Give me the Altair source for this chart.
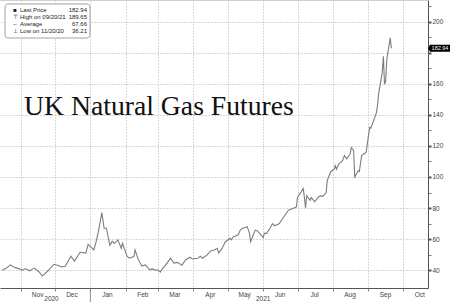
import altair as alt
import pandas as pd

# ---- data ----
dates = [
    "2020-10-16", "2020-10-20", "2020-10-23", "2020-10-26", "2020-10-29",
    "2020-11-03", "2020-11-05", "2020-11-09", "2020-11-11", "2020-11-13", "2020-11-17", "2020-11-20", "2020-11-25", "2020-11-30",
    "2020-12-04", "2020-12-07", "2020-12-10", "2020-12-15", "2020-12-18", "2020-12-23", "2020-12-28", "2020-12-30", "2020-12-31",
    "2021-01-04", "2021-01-06", "2021-01-08", "2021-01-11", "2021-01-13", "2021-01-15", "2021-01-18", "2021-01-20", "2021-01-22", "2021-01-25", "2021-01-28", "2021-01-29",
    "2021-02-02", "2021-02-04", "2021-02-08", "2021-02-09", "2021-02-12", "2021-02-15", "2021-02-18", "2021-02-22", "2021-02-24", "2021-02-26",
    "2021-03-01", "2021-03-03", "2021-03-05", "2021-03-09", "2021-03-12", "2021-03-15", "2021-03-18", "2021-03-22", "2021-03-25", "2021-03-29", "2021-03-31",
    "2021-04-05", "2021-04-07", "2021-04-09", "2021-04-13", "2021-04-16", "2021-04-19", "2021-04-22", "2021-04-23", "2021-04-26", "2021-04-29",
    "2021-05-03", "2021-05-04", "2021-05-06", "2021-05-10", "2021-05-12", "2021-05-14", "2021-05-18", "2021-05-20", "2021-05-21", "2021-05-25", "2021-05-27",
    "2021-06-01", "2021-06-02", "2021-06-04", "2021-06-07", "2021-06-09", "2021-06-11", "2021-06-14", "2021-06-15", "2021-06-18", "2021-06-21", "2021-06-23", "2021-06-28", "2021-06-30",
    "2021-07-01", "2021-07-05", "2021-07-06", "2021-07-07", "2021-07-08", "2021-07-09", "2021-07-12", "2021-07-13", "2021-07-15", "2021-07-16", "2021-07-19", "2021-07-21", "2021-07-23", "2021-07-26", "2021-07-27", "2021-07-30",
    "2021-08-02", "2021-08-03", "2021-08-04", "2021-08-06", "2021-08-09", "2021-08-11", "2021-08-13", "2021-08-16", "2021-08-17", "2021-08-19", "2021-08-20", "2021-08-23", "2021-08-24", "2021-08-26", "2021-08-30", "2021-08-31",
    "2021-09-01", "2021-09-02", "2021-09-03", "2021-09-06", "2021-09-08", "2021-09-09", "2021-09-10", "2021-09-13", "2021-09-14", "2021-09-15", "2021-09-16", "2021-09-17", "2021-09-20", "2021-09-21",
]
prices = [
    40, 41.5, 43.4, 42, 41.3,
    40, 41, 39.6, 40.5, 41.3, 39, 36.21, 39.6, 43.8,
    43, 42, 42.5, 49, 45.8, 51.5, 51, 56.6, 56,
    53, 58.3, 65, 77, 67, 67, 56, 58.5, 57.3, 59.5, 54, 57.3,
    49, 47.7, 48.8, 53, 46.6, 42.6, 43.4, 40.2, 40.8, 40.2,
    40, 38.7, 41, 44.5, 47.7, 44.5, 45, 43.2, 46.6, 48.3, 47.2,
    47.7, 49, 47.7, 49.8, 52.4, 53, 54, 51, 54, 58.3,
    60.5, 59.5, 61.6, 62.6, 65.8, 67, 68, 63.7, 58.3, 65.8, 65.3,
    61, 63.7, 63.7, 67, 70, 68.6, 69.5, 70, 73.3, 76.5, 78.6, 80, 80.8,
    87, 91.4, 92.5, 86.7, 80, 88, 85, 86.7, 85, 84, 87, 88, 87.5, 90, 97.8, 103.4,
    105, 107.4, 105, 108.5, 110, 113.8, 111.7, 115, 119, 117, 100, 104, 103.5, 113.8, 116, 121.3,
    126.6, 132, 131.3, 137.3, 141.6, 146.9, 154.4, 167.2, 177.8, 159.7, 161.8, 175.7, 189.65, 182.94,
]
assert len(dates) == len(prices)

title_text = "UK Natural Gas Futures"
legend_symbols = ["\u25a0", "\u22a4", "\u2013", "\u22a5"]
legend_labels = ["Last Price", "High on 09/20/21", "Average", "Low on 11/20/20"]
legend_values = ["182.94", "189.65", "67.66", "36.21"]
last_price = 182.94
year_labels = ["2020", "2021"]
year_centers = ["2020-11-28", "2021-06-01"]
year_break = ["2021-01-01"]
y_tick_values = list(range(40, 211, 10))
month_starts = [(2020, 11), (2020, 12), (2021, 1), (2021, 2), (2021, 3), (2021, 4),
                (2021, 5), (2021, 6), (2021, 7), (2021, 8), (2021, 9), (2021, 10)]

W, H = 428, 288
FONT = "Liberation Sans"
GRID = "#a8a8a8"

df = pd.DataFrame({"date": dates, "price": prices})
one = pd.DataFrame({"k": [0]})

xscale = alt.Scale(type="utc",
                   domain=[alt.DateTime(year=2020, month=10, date=14, utc=True),
                           alt.DateTime(year=2021, month=10, date=23, utc=True)])
yscale = alt.Scale(domain=[28.5, 214], nice=False, zero=False)

xaxis = alt.Axis(
    values=[alt.DateTime(year=y, month=m, date=1, utc=True) for y, m in month_starts],
    tickCount=100,
    format="%b", labelOffset=16.5, tickSize=3, tickColor="#888", domainColor="#555",
    grid=True, gridColor=GRID, gridDash=[1, 2], gridWidth=0.9,
    labelFont=FONT, labelFontSize=6.5, labelColor="#444", labelPadding=0, title=None,
    labelFlush=False, labelOverlap=False,
)
# the 180 label sits under the last-price tag in the reference
y_label_expr = ("datum.value % 20 == 0 && abs(datum.value - " + str(last_price)
                + ") > 6 ? datum.label : ''")
yaxis = alt.Axis(
    orient="right", values=y_tick_values, tickCount=100,
    labelExpr=y_label_expr,
    tickSize=3, tickColor="#555", domainColor="#555",
    tickWidth={"condition": {"test": "datum.value % 20 == 0", "value": 2}, "value": 0.8},
    grid=True, gridColor=GRID, gridDash=[1, 2], gridWidth=0.9,
    gridOpacity={"condition": {"test": "datum.value % 20 == 0", "value": 1}, "value": 0},
    labelFont=FONT, labelFontSize=6.5, labelColor="#444", labelPadding=1, title=None,
    labelOverlap=False,
)

line = alt.Chart(df).mark_line(color="#7d7d7d", strokeWidth=1.1).encode(
    x=alt.X("date:T", scale=xscale, axis=xaxis),
    y=alt.Y("price:Q", scale=yscale, axis=yaxis),
)

top_rule = alt.Chart(one).mark_rule(color="#cfcfcf", strokeWidth=1).encode(
    x=alt.value(0), x2=alt.value(W), y=alt.value(0.5))

title = alt.Chart(one).mark_text(font="Liberation Serif", fontSize=27.7, align="left",
                                  baseline="alphabetic", color="#111").encode(
    x=alt.value(24), y=alt.value(115), text=alt.value(title_text))

legend_box = alt.Chart(one).mark_rect(fill="white", stroke="#8a8a8a", strokeWidth=0.8,
                                      cornerRadius=3).encode(
    x=alt.value(5), x2=alt.value(90), y=alt.value(4), y2=alt.value(38))

leg_common = dict(lineBreak="\n", lineHeight=7.3, baseline="top", font=FONT, fontSize=6, color="#222")
leg_sym = alt.Chart(one).mark_text(align="center", **leg_common).encode(
    x=alt.value(15), y=alt.value(6.5), text=alt.value("\n".join(legend_symbols)))
leg_lab = alt.Chart(one).mark_text(align="left", **leg_common).encode(
    x=alt.value(20), y=alt.value(6.5), text=alt.value("\n".join(legend_labels)))
leg_val = alt.Chart(one).mark_text(align="right", **leg_common).encode(
    x=alt.value(87), y=alt.value(6.5), text=alt.value("\n".join(legend_values)))

tag_df = pd.DataFrame({"price": [last_price], "label": [f"{last_price:.2f}"]})
tag = alt.Chart(tag_df).mark_point(
    shape="M -1 0 L -0.82 -0.32 L 1 -0.32 L 1 0.32 L -0.82 0.32 Z",
    filled=True, fill="black", stroke="black", strokeWidth=0, opacity=1, size=484,
).encode(x=alt.value(W + 11), y=alt.Y("price:Q", scale=yscale))
tag_text = alt.Chart(tag_df).mark_text(color="white", font=FONT, fontSize=5.5,
                                       align="center", baseline="middle").encode(
    x=alt.value(W + 12), y=alt.Y("price:Q", scale=yscale), text="label:N")

yr_df = pd.DataFrame({"date": year_centers, "label": year_labels})
years = alt.Chart(yr_df).mark_text(font=FONT, fontSize=6.5, color="#444", baseline="middle").encode(
    x=alt.X("date:T", scale=xscale), y=alt.value(H + 10.5), text="label:N")

brk_df = pd.DataFrame({"date": year_break})
brk = alt.Chart(brk_df).mark_rule(color="#777", strokeWidth=0.8).encode(
    x=alt.X("date:T", scale=xscale), y=alt.value(H), y2=alt.value(H + 14))

chart = alt.layer(line, top_rule, title, legend_box, leg_sym, leg_lab, leg_val,
                  tag, tag_text, years, brk).properties(
    width=W, height=H,
    padding={"left": 0, "top": 0, "right": 22, "bottom": 14},
    autosize=alt.AutoSizeParams(type="none"),
    background="white",
).configure_view(stroke=None).configure_axis(labelOverlap=False, labelFlush=False)

chart.save("out.html", embed_options={"renderer": "svg", "actions": False})
